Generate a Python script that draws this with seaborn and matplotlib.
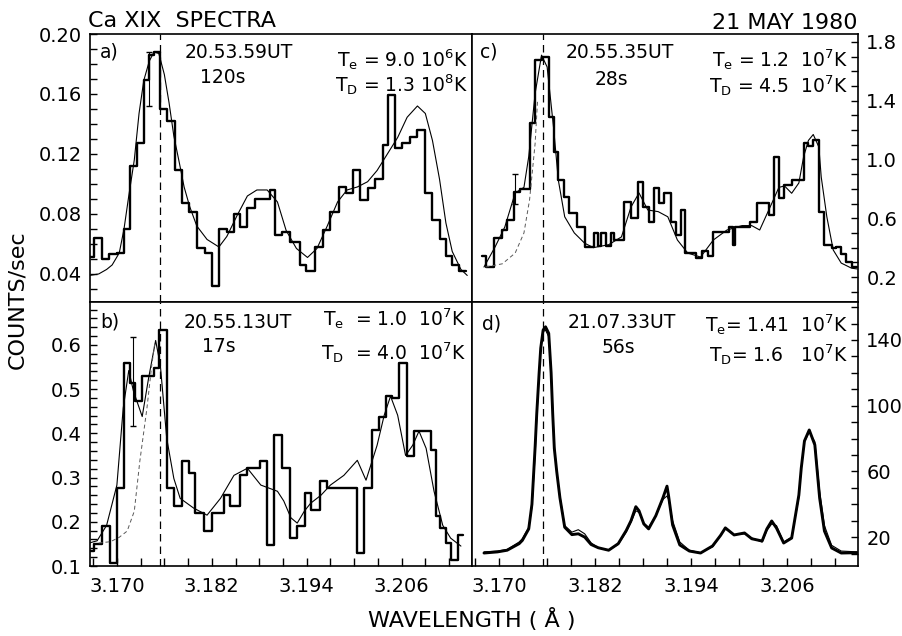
import matplotlib
matplotlib.use("Agg")
import matplotlib.pyplot as plt
from matplotlib.ticker import FixedLocator, MultipleLocator, FormatStrFormatter
import numpy as np
import seaborn as sns

sns.set_style("ticks")
plt.rcParams['font.family'] = ['DejaVu Sans']
plt.rcParams['mathtext.default'] = 'regular'
plt.rcParams.update({'text.color': 'black', 'axes.labelcolor': 'black',
                     'xtick.color': 'black', 'ytick.color': 'black',
                     'axes.edgecolor': 'black'})

# ---- data (wavelength in Angstrom, counts/sec) ----
W_LINE = 3.1755

# a) 20.53.59UT, 120 s
a_edges = [3.1665, 3.1671, 3.1681, 3.1690, 3.1700, 3.1709, 3.1716, 3.1725, 3.1734, 3.1741,
           3.1747, 3.1754, 3.1763, 3.1773, 3.1782, 3.1791, 3.1801, 3.1811, 3.1820, 3.1829,
           3.1839, 3.1848, 3.1856, 3.1865, 3.1874, 3.1893, 3.1900, 3.1909, 3.1919, 3.1931,
           3.1939, 3.1950, 3.1960, 3.1970, 3.1981, 3.1990, 3.1998, 3.2007, 3.2017, 3.2026,
           3.2036, 3.2043, 3.2052, 3.2061, 3.2071, 3.2080, 3.2089, 3.2099, 3.2109, 3.2116,
           3.2124, 3.2133, 3.2141]
a_counts = [0.051, 0.064, 0.050, 0.053, 0.054, 0.070, 0.112, 0.127, 0.169, 0.186,
            0.188, 0.150, 0.142, 0.109, 0.087, 0.081, 0.057, 0.054, 0.032, 0.070,
            0.068, 0.080, 0.071, 0.084, 0.090, 0.096, 0.066, 0.068, 0.061, 0.046,
            0.042, 0.058, 0.069, 0.081, 0.098, 0.094, 0.109, 0.089, 0.097, 0.103,
            0.126, 0.159, 0.124, 0.127, 0.131, 0.136, 0.094, 0.076, 0.063, 0.052,
            0.046, 0.042]
a_fit_wave = [3.1665, 3.1677, 3.1687, 3.1694, 3.1703, 3.1709, 3.1715, 3.1722, 3.1728, 3.1734,
              3.1741, 3.1747, 3.1753, 3.1760, 3.1766, 3.1772, 3.1779, 3.1785, 3.1792, 3.1801,
              3.1814, 3.1829, 3.1839, 3.1852, 3.1865, 3.1877, 3.1890, 3.1903, 3.1914, 3.1927,
              3.1941, 3.1953, 3.1966, 3.1979, 3.1991, 3.2004, 3.2017, 3.2029, 3.2042, 3.2055,
              3.2067, 3.2080, 3.2090, 3.2099, 3.2108, 3.2116, 3.2124, 3.2135, 3.2143]
a_fit = [0.039, 0.040, 0.043, 0.046, 0.054, 0.070, 0.092, 0.116, 0.147, 0.169,
         0.182, 0.188, 0.187, 0.173, 0.154, 0.132, 0.114, 0.098, 0.085, 0.072,
         0.063, 0.058, 0.065, 0.079, 0.092, 0.096, 0.096, 0.088, 0.069, 0.057,
         0.051, 0.057, 0.072, 0.088, 0.096, 0.098, 0.1015, 0.109, 0.120, 0.131,
         0.1445, 0.152, 0.147, 0.129, 0.103, 0.074, 0.055, 0.043, 0.039]
a_err = (3.1740, 0.170, 0.018)

# b) 20.55.13UT, 17 s
b_edges = [3.1665, 3.1671, 3.1681, 3.1691, 3.1700, 3.1709, 3.1716, 3.1723, 3.1732, 3.1747,
           3.1753, 3.1763, 3.1772, 3.1782, 3.1791, 3.1799, 3.1810, 3.1820, 3.1836, 3.1843,
           3.1856, 3.1865, 3.1881, 3.1890, 3.1899, 3.1909, 3.1919, 3.1928, 3.1938, 3.1945,
           3.1957, 3.1966, 3.2004, 3.2013, 3.2023, 3.2032, 3.2040, 3.2048, 3.2057, 3.2067,
           3.2076, 3.2097, 3.2103, 3.2109, 3.2116, 3.2122, 3.2131, 3.2137]
b_counts = [0.133, 0.150, 0.190, 0.107, 0.276, 0.558, 0.513, 0.472, 0.529, 0.547,
            0.633, 0.276, 0.235, 0.337, 0.310, 0.220, 0.179, 0.220, 0.260, 0.235,
            0.305, 0.321, 0.337, 0.147, 0.396, 0.321, 0.163, 0.190, 0.265, 0.226,
            0.292, 0.276, 0.129, 0.276, 0.407, 0.438, 0.484, 0.480, 0.558, 0.348,
            0.405, 0.362, 0.213, 0.186, 0.152, 0.114, 0.170]
b_fit_wave = [3.1665, 3.1675, 3.1687, 3.1700, 3.1708, 3.1715, 3.1721, 3.1732, 3.1740, 3.1749,
              3.1755, 3.1763, 3.1772, 3.1780, 3.1797, 3.1814, 3.1831, 3.1848, 3.1865, 3.1882,
              3.1903, 3.1911, 3.1920, 3.1928, 3.1937, 3.1945, 3.1958, 3.1970, 3.1987, 3.2004,
              3.2015, 3.2029, 3.2038, 3.2046, 3.2055, 3.2065, 3.2074, 3.2082, 3.2091, 3.2101,
              3.2112, 3.2122, 3.2135]
b_fit = [0.152, 0.157, 0.192, 0.283, 0.457, 0.542, 0.495, 0.438, 0.524, 0.610,
         0.553, 0.389, 0.298, 0.253, 0.231, 0.215, 0.253, 0.305, 0.321, 0.283,
         0.269, 0.247, 0.209, 0.197, 0.224, 0.242, 0.260, 0.283, 0.305, 0.339,
         0.294, 0.373, 0.441, 0.484, 0.441, 0.350, 0.373, 0.405, 0.366, 0.269,
         0.192, 0.163, 0.145]
b_dash_wave = [3.1677, 3.1692, 3.1703, 3.1713, 3.1722, 3.1729, 3.1738, 3.1744, 3.1748]
b_dash = [0.152, 0.155, 0.165, 0.179, 0.224, 0.337, 0.457, 0.553, 0.605]
b_err = (3.1721, 0.517, 0.100)

# c) 20.55.35UT, 28 s
c_edges = [3.1679, 3.1684, 3.1694, 3.1704, 3.1710, 3.1719, 3.1726, 3.1738, 3.1745, 3.1753,
           3.1762, 3.1768, 3.1774, 3.1781, 3.1788, 3.1797, 3.1807, 3.1819, 3.1824, 3.1828,
           3.1834, 3.1840, 3.1844, 3.1856, 3.1865, 3.1874, 3.1880, 3.1887, 3.1894, 3.1900,
           3.1906, 3.1915, 3.1921, 3.1927, 3.1933, 3.1946, 3.1954, 3.1961, 3.1967, 3.1988,
           3.1992, 3.1995, 3.2014, 3.2023, 3.2038, 3.2044, 3.2050, 3.2057, 3.2066, 3.2082,
           3.2087, 3.2093, 3.2100, 3.2107, 3.2116, 3.2122, 3.2128, 3.2134, 3.2141, 3.2148]
c_counts = [0.34, 0.27, 0.465, 0.52, 0.588, 0.78, 0.80, 1.25, 1.68, 1.70,
            1.29, 1.05, 0.86, 0.745, 0.636, 0.54, 0.406, 0.50, 0.41, 0.50,
            0.41, 0.50, 0.452, 0.71, 0.60, 0.847, 0.677, 0.575, 0.806, 0.704,
            0.772, 0.575, 0.486, 0.656, 0.363, 0.33, 0.38, 0.34, 0.506, 0.54,
            0.418, 0.54, 0.575, 0.704, 0.622, 1.02, 0.738, 0.826, 0.86, 1.11,
            1.09, 1.13, 0.642, 0.418, 0.40, 0.406, 0.36, 0.30, 0.27]
c_fit_wave = [3.1681, 3.1695, 3.1707, 3.1720, 3.1731, 3.1737, 3.1745, 3.1753, 3.1760, 3.1768,
              3.1774, 3.1782, 3.1794, 3.1807, 3.1818, 3.1837, 3.1853, 3.1865, 3.1875, 3.1886,
              3.1899, 3.1911, 3.1923, 3.1936, 3.1952, 3.1968, 3.1985, 3.2004, 3.2016, 3.2026,
              3.2041, 3.2050, 3.2057, 3.2066, 3.2075, 3.2081, 3.2087, 3.2093, 3.2100, 3.2103,
              3.2110, 3.2118, 3.2128, 3.2141, 3.2148]
c_fit = [0.268, 0.406, 0.54, 0.772, 0.81, 1.02, 1.45, 1.71, 1.63, 1.22,
         0.86, 0.61, 0.50, 0.43, 0.40, 0.42, 0.473, 0.677, 0.772, 0.656,
         0.645, 0.61, 0.452, 0.363, 0.336, 0.452, 0.52, 0.55, 0.55, 0.52,
         0.70, 0.81, 0.82, 0.77, 0.84, 1.02, 1.13, 1.17, 1.085, 0.88,
         0.61, 0.384, 0.295, 0.26, 0.255]
c_dash_wave = [3.1683, 3.1704, 3.1720, 3.1731, 3.1738, 3.1745, 3.1748]
c_dash = [0.268, 0.29, 0.363, 0.50, 0.724, 1.11, 1.40]
c_err = (3.1720, 0.80, 0.10)

# d) 21.07.33UT, 56 s
d_wave = [3.1681, 3.1698, 3.1710, 3.1725, 3.1729, 3.1737, 3.1741, 3.1745, 3.1747, 3.1750,
          3.1752, 3.1755, 3.1758, 3.1762, 3.1765, 3.1767, 3.1769, 3.1772, 3.1776, 3.1782,
          3.1791, 3.1799, 3.1807, 3.1815, 3.1824, 3.1837, 3.1849, 3.1859, 3.1865, 3.1871,
          3.1875, 3.1881, 3.1887, 3.1896, 3.1905, 3.1910, 3.1912, 3.1917, 3.1926, 3.1938,
          3.1952, 3.1967, 3.1977, 3.1983, 3.1994, 3.2007, 3.2016, 3.2029, 3.2035, 3.2041,
          3.2047, 3.2056, 3.2066, 3.2075, 3.2078, 3.2082, 3.2088, 3.2095, 3.2101, 3.2107,
          3.2116, 3.2128, 3.2148]
d_counts = [10.3, 11, 12, 16, 18, 25, 40, 75, 95, 120,
            135, 146, 148, 144, 120, 95, 74, 60, 44, 26,
            21.5, 22, 20, 15.5, 13.5, 12, 16, 24, 30, 38.5,
            36, 28, 25, 33, 44, 51, 45, 27.4, 15.2, 11.5,
            10.3, 14.6, 21, 25.6, 21.3, 22.5, 19, 17.6, 25, 29.8,
            25.5, 16.4, 19.4, 45.6, 62, 78.5, 85.2, 76.1, 43.8, 23.7,
            13.4, 10.3, 10.5]
d_fit = [11, 11.5, 12.5, 17, 19, 26, 38, 70, 92, 118,
         135, 145, 146, 142, 122, 98, 76, 60, 45, 27,
         23, 24.5, 22, 16.5, 13.5, 12, 15.5, 23, 29, 36,
         35, 28.5, 26, 33, 43, 45, 43, 30, 17, 12,
         10.5, 14, 21, 25, 21.5, 22, 19.5, 17, 24, 28,
         27, 17, 20, 44, 62, 78, 84, 78, 48, 27,
         15, 11.5, 11]

# ---- figure ----
W, H = 902, 636
fig = plt.figure(figsize=(W / 100, H / 100), dpi=100)


def box(x0, y0, x1, y1):
    return [x0 / W, 1 - y1 / H, (x1 - x0) / W, (y1 - y0) / H]


def ftext(px, py, s, ha='center', size=13.5):
    fig.text(px / W, 1 - py / H, s, ha=ha, va='baseline', fontsize=size)


ax_a = fig.add_axes(box(90, 34, 472, 302))
ax_c = fig.add_axes(box(472, 34, 858, 302))
ax_b = fig.add_axes(box(90, 302, 472, 566))
ax_d = fig.add_axes(box(472, 302, 858, 566))


def draw_hist(ax, edges, counts, lw=1.7):
    sns.lineplot(x=edges, y=list(counts) + [counts[-1]], ax=ax, color='black', lw=lw,
                 drawstyle='steps-post', estimator=None, sort=False)


def draw_fit(ax, wave, vals, lw=0.8, ls='-', color='black'):
    sns.lineplot(x=wave, y=vals, ax=ax, color=color, lw=lw, linestyle=ls,
                 estimator=None, sort=False)


draw_hist(ax_a, a_edges, a_counts)
draw_fit(ax_a, a_fit_wave, a_fit)
ax_a.errorbar(a_err[0], a_err[1], yerr=a_err[2], fmt='none', ecolor='black', elinewidth=0.8, capsize=2)

draw_hist(ax_b, b_edges, b_counts)
draw_fit(ax_b, b_fit_wave, b_fit)
draw_fit(ax_b, b_dash_wave, b_dash, lw=0.7, ls=(0, (4, 3)), color='0.35')
ax_b.errorbar(b_err[0], b_err[1], yerr=b_err[2], fmt='none', ecolor='black', elinewidth=0.8, capsize=2.5)

draw_hist(ax_c, c_edges, c_counts)
draw_fit(ax_c, c_fit_wave, c_fit)
draw_fit(ax_c, c_dash_wave, c_dash, lw=0.7, ls=(0, (4, 3)), color='0.35')
ax_c.errorbar(c_err[0], c_err[1], yerr=c_err[2], fmt='none', ecolor='black', elinewidth=0.8, capsize=2)

# panel d: fine-binned data drawn as a heavy trace, fit as a thin line
draw_fit(ax_d, d_wave, d_counts, lw=2.1)
draw_fit(ax_d, d_wave, d_fit, lw=0.8)

for ax in (ax_a, ax_b, ax_c, ax_d):
    ax.axvline(W_LINE, color='black', lw=0.9, ls=(0, (6, 4)))
    ax.set_xlim(3.1666, 3.2149)
    ax.set_xlabel('')
    ax.set_ylabel('')
    for sp in ax.spines.values():
        sp.set_visible(True)
        sp.set_linewidth(1.2)
    ax.tick_params(which='both', direction='in', labelsize=14, width=1.0, length=5)

ax_a.set_ylim(0.0213, 0.20)
ax_b.set_ylim(0.10, 0.697)
ax_c.set_ylim(0.030, 1.854)
ax_d.set_ylim(2.4, 163.1)

for ax in (ax_a, ax_c):
    ax.tick_params(axis='x', which='both', bottom=False, top=False, labelbottom=False)

xt = [3.170, 3.182, 3.194, 3.206]
for ax in (ax_b, ax_d):
    ax.xaxis.set_major_locator(FixedLocator(xt))
    ax.xaxis.set_minor_locator(FixedLocator(np.arange(3.167, 3.2149, 0.003)))
    ax.xaxis.set_major_formatter(FormatStrFormatter('%.3f'))
    ax.tick_params(axis='x', which='both', top=False, length=6, pad=8)

ax_a.yaxis.set_major_locator(FixedLocator([0.04, 0.08, 0.12, 0.16, 0.20]))
ax_a.yaxis.set_minor_locator(MultipleLocator(0.01))
ax_a.yaxis.set_major_formatter(FormatStrFormatter('%.2f'))
ax_b.yaxis.set_major_locator(FixedLocator([0.1, 0.2, 0.3, 0.4, 0.5, 0.6]))
ax_b.yaxis.set_minor_locator(MultipleLocator(0.02))
ax_b.yaxis.set_major_formatter(FormatStrFormatter('%.1f'))
for ax in (ax_a, ax_b):
    ax.tick_params(axis='y', which='both', right=False, pad=6)

ax_c.yaxis.set_major_locator(FixedLocator([0.2, 0.6, 1.0, 1.4, 1.8]))
ax_c.yaxis.set_minor_locator(MultipleLocator(0.1))
ax_c.yaxis.set_major_formatter(FormatStrFormatter('%.1f'))
ax_d.yaxis.set_major_locator(FixedLocator([20, 60, 100, 140]))
ax_d.yaxis.set_minor_locator(MultipleLocator(10))
ax_d.yaxis.set_major_formatter(FormatStrFormatter('%d'))
for ax in (ax_c, ax_d):
    ax.yaxis.tick_right()
    ax.tick_params(axis='y', which='both', left=False, right=True,
                   labelleft=False, labelright=True, pad=6)

# ---- text ----
ftext(88, 27, "Ca XIX  SPECTRA", ha='left', size=16)
ftext(857, 29, "21 MAY 1980", ha='right', size=16)
fig.text(17 / W, 1 - 300 / H, "COUNTS/sec", rotation=90, ha='center', va='center', fontsize=16)
fig.text(472 / W, 1 - 620 / H, "WAVELENGTH ( Å )", ha='center', va='center', fontsize=16)

ftext(100, 57, "a)", ha='left')
ftext(239, 58, "20.53.59UT")
ftext(223, 83, "120s")
ftext(468, 67, r"T$_e$ = 9.0 10$^6$K", ha='right')
ftext(468, 92, r"T$_D$ = 1.3 10$^8$K", ha='right')

ftext(100, 327, "b)", ha='left')
ftext(238, 328, "20.55.13UT")
ftext(219, 352, "17s")
ftext(466, 326, r"T$_e$  = 1.0  10$^7$K", ha='right')
ftext(466, 360, r"T$_D$  = 4.0  10$^7$K", ha='right')

ftext(480, 57, "c)", ha='left')
ftext(620, 58, "20.55.35UT")
ftext(611, 85, "28s")
ftext(848, 67, r"T$_e$ = 1.2  10$^7$K", ha='right')
ftext(848, 93, r"T$_D$ = 4.5  10$^7$K", ha='right')

ftext(482, 330, "d)", ha='left')
ftext(622, 328, "21.07.33UT")
ftext(618, 353, "56s")
ftext(848, 332, r"T$_e$= 1.41  10$^7$K", ha='right')
ftext(848, 362, r"T$_D$= 1.6   10$^7$K", ha='right')

fig.savefig("out.png", dpi=100)
